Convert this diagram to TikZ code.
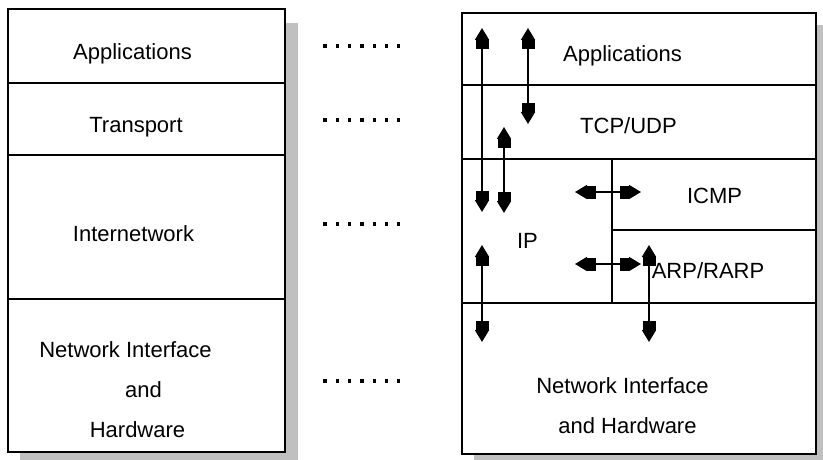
\documentclass[tikz,border=0pt]{standalone}
\usepackage{fontspec}
\setmainfont{Liberation Sans}
\usetikzlibrary{arrows.meta}
\definecolor{shadowgray}{RGB}{192,192,192}
\tikzset{
  frame/.style={draw=black, line width=1.8pt},
  lbl/.style={anchor=base, inner sep=0pt, font=\fontsize{22}{26}\selectfont},
  flow/.style={line width=1.8pt,
    {Triangle[length=12pt,width=14pt,sep=0pt]Rectangle[length=9pt,width=13pt,sep=0pt]}-{Rectangle[length=9pt,width=13pt,sep=0pt]Triangle[length=12pt,width=14pt,sep=0pt]}},
  dotrow/.style={fill=black}
}
\begin{document}
\begin{tikzpicture}[x=1pt,y=-1pt]
\useasboundingbox (0,0) rectangle (823,460);
\fill[white] (0,0) rectangle (823,460);

% ---- TCP/IP conceptual layers (left stack) ----
\fill[shadowgray] (20,23) rectangle (298,470);
\fill[white] (8,9) rectangle (285,452);
\draw[frame] (8,9) rectangle (285,452);
\draw[frame] (8,83) -- (285,83);
\draw[frame] (8,155) -- (285,155);
\draw[frame] (8,299) -- (285,299);

\node[lbl] (lapp) at (132.5,60) {Applications};
\node[lbl] (ltrans) at (136,132) {Transport};
\node[lbl] (linet) at (133.5,241) {Internetwork};
\node[lbl] (lnet1) at (125.5,357) {Network Interface};
\node[lbl] (lnet2) at (143.5,397) {and};
\node[lbl] (lnet3) at (137.5,437) {Hardware};

% ---- dotted correspondences ----
\foreach \yy in {46,120,224,381}
  \foreach \k in {0,...,6}
    \fill[dotrow] ({325+12.3*\k-1.6},{\yy-1.6}) rectangle ++(3.2,3.2);

% ---- protocol stack (right) ----
\fill[shadowgray] (474,25) rectangle (830,470);
\fill[white] (462,13) rectangle (816,454);
\draw[frame] (462,13) rectangle (816,454);
\draw[frame] (462,85) -- (816,85);
\draw[frame] (462,159) -- (816,159);
\draw[frame] (462,303) -- (816,303);
\draw[frame] (612,159) -- (612,303);
\draw[frame] (612,230) -- (816,230);

\node[lbl] (rapp) at (622.5,62) {Applications};
\node[lbl] (rtcp) at (628.5,133) {TCP/UDP};
\node[lbl] (ricmp) at (714.5,204) {ICMP};
\node[lbl] (rip) at (527.5,248) {IP};
\node[lbl] (rarp) at (708,278) {ARP/RARP};
\node[lbl] (rnet1) at (622.5,393) {Network Interface};
\node[lbl] (rnet2) at (627.5,433) {and Hardware};

% arrow end points
\coordinate (p1a) at (482,28);  \coordinate (p1b) at (482,212);
\coordinate (p2a) at (528,28);  \coordinate (p2b) at (528,124);
\coordinate (p3a) at (504,127); \coordinate (p3b) at (504,213);
\coordinate (p4a) at (575,192); \coordinate (p4b) at (641,192);
\coordinate (p5a) at (482,245); \coordinate (p5b) at (482,342);
\coordinate (p6a) at (575,264); \coordinate (p6b) at (641,264);
\coordinate (p7a) at (649,245); \coordinate (p7b) at (649,342);

\draw[flow] (p1a) -- (p1b);
\draw[flow] (p2a) -- (p2b);
\draw[flow] (p3a) -- (p3b);
\draw[flow] (p4a) -- (p4b);
\draw[flow] (p5a) -- (p5b);
\draw[flow] (p6a) -- (p6b);
\draw[flow] (p7a) -- (p7b);
\end{tikzpicture}
\end{document}
